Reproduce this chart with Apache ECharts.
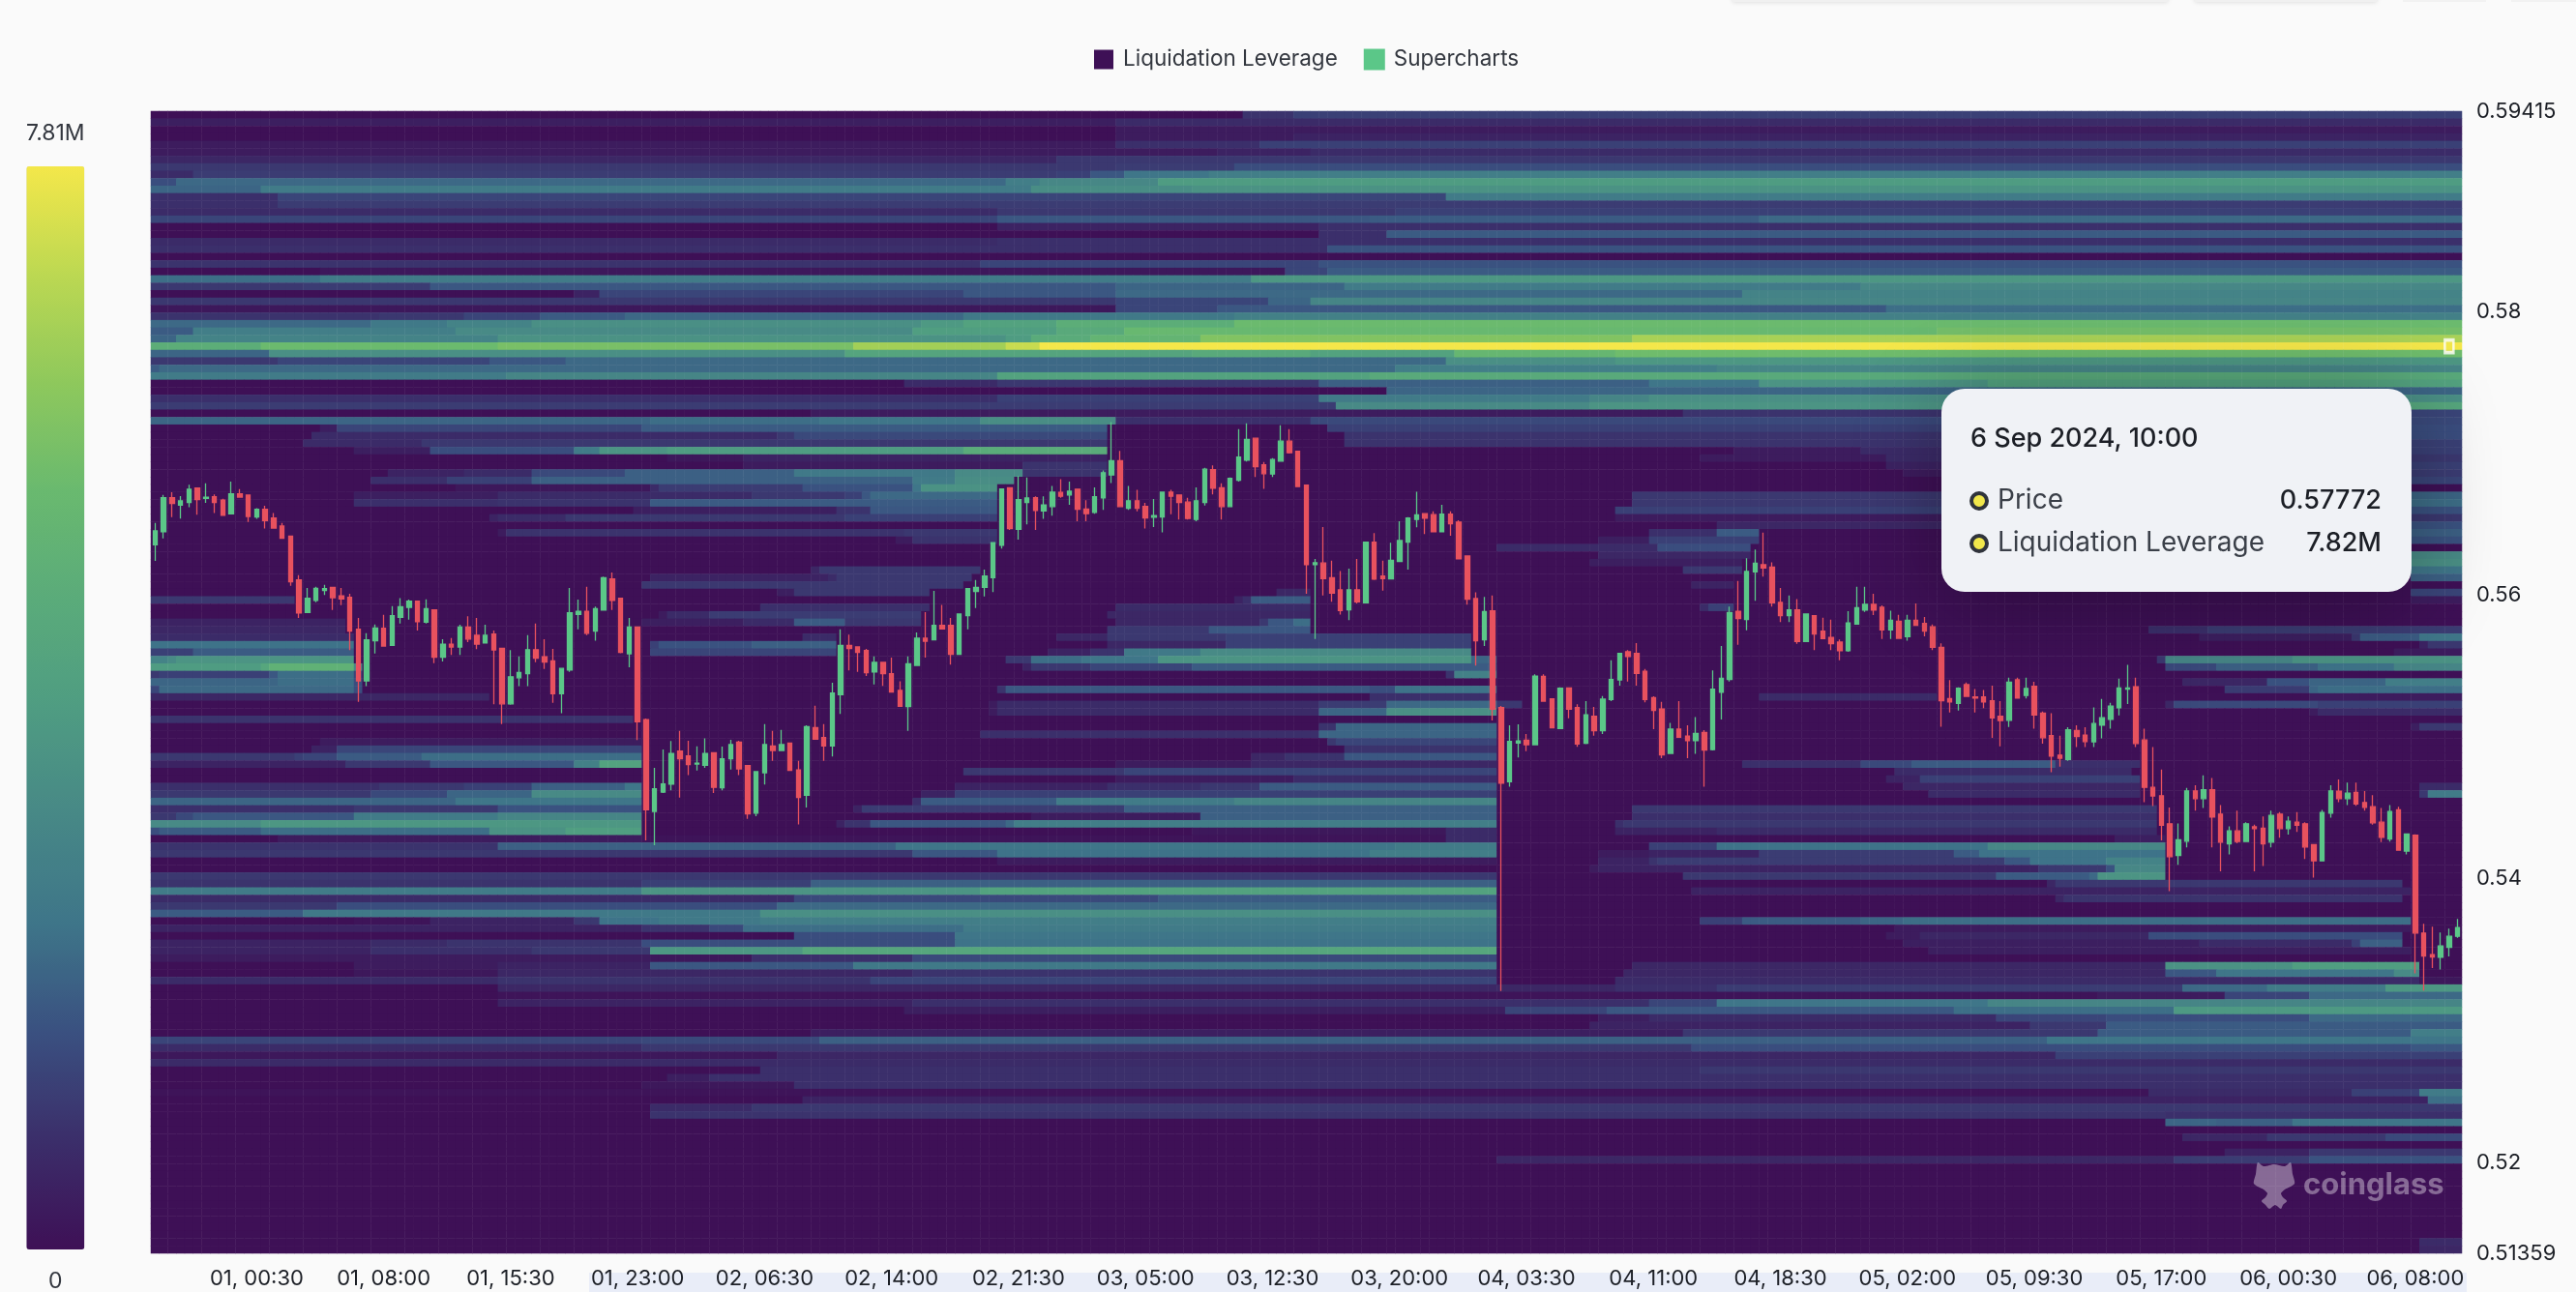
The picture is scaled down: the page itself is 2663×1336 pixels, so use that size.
<!DOCTYPE html>
<html><head><meta charset="utf-8">
<style>html,body{margin:0;padding:0;background:#fafafa}#c{width:2663px;height:1336px}</style>
<script src="https://cdn.jsdelivr.net/npm/echarts@6/dist/echarts.min.js"></script>
</head><body><div id="c"></div>
<script>
// Candles, one row per half hour: [open, close, low, high] in units of 0.00001
const candlesA=[[56357,56455,56243,56511],[56448,56689,56402,56709],[56689,56648,56552,56728],[56637,56666,56541,56700],[56655,56748,56621,56780],[56757,56675,56568,56757],[56684,56693,56653,56791],[56696,56655,56580,56712],[56671,56564,56562,56682],[56575,56716,56573,56803],[56716,56693,56689,56750],[56707,56557,56518,56707],[56552,56607,56539,56614],[56607,56527,56471,56632],[56546,56475,56471,56580],[56489,56402,56402,56511],[56418,56095,56068,56418],[56109,55875,55840,56143],[55879,55979,55875,56052],[55965,56050,55952,56061],[56034,56047,56002,56075],[56056,55984,55897,56056],[55997,55975,55931,56052],[55986,55747,55613,56011],[55761,55397,55249,55840],[55397,55686,55360,55733],[55679,55770,55590,55795],[55768,55642,55642,55863],[55647,55856,55645,55925],[55845,55920,55802,55981],[55915,55959,55829,55970],[55959,55815,55752,55959],[55811,55906,55802,55972],[55897,55563,55522,55897],[55563,55656,55533,55690],[55656,55636,55579,55699],[55636,55777,55579,55793],[55777,55692,55670,55852],[55718,55656,55620,55840],[55665,55718,55661,55793],[55727,55615,55231,55752],[55627,55235,55092,55627],[55235,55426,55228,55613],[55419,55456,55360,55570],[55447,55617,55360,55720],[55617,55556,55529,55802],[55567,55529,55481,55690],[55538,55306,55242,55622],[55306,55485,55169,55485],[55474,55877,55460,56052],[55865,55888,55761,55970],[55888,55733,55720,56061],[55747,55906,55681,55920],[55897,56125,55893,56132],[56116,55965,55897,56161],[55979,55597,55592,55979],[55588,55777,55492,55840],[55777,55108,54980,55777],[55124,54487,54271,55131]];
const candlesB=[[54476,54635,54237,54783],[54612,54669,54606,54913],[54669,54885,54624,54972],[54901,54847,54574,55045],[54867,54806,54733,54974],[54810,54817,54765,54935],[54801,54885,54783,54992],[54890,54646,54606,54890],[54642,54847,54624,54933],[54847,54947,54772,54981],[54965,54776,54733,54974],[54799,54458,54424,54799],[54464,54756,54442,54756],[54749,54947,54665,55092],[54938,54906,54833,55045],[54906,54947,54901,55051],[54958,54765,54765,54958],[54769,54574,54385,54833],[54590,55074,54503,55083],[55067,54985,54983,55222],[54997,54938,54833,55092],[54938,55311,54863,55384],[55299,55647,55163,55761],[55647,55625,55470,55723],[55636,55597,55461,55636],[55611,55454,55431,55622],[55459,55527,55372,55570],[55527,55447,55361,55527],[55447,55318,55315,55561],[55329,55218,55215,55393],[55215,55518,55045,55570],[55506,55698,55504,55738],[55698,55677,55561,55882],[55686,55789,55684,56032],[55789,55764,55761,55932],[55789,55584,55511,55841],[55584,55868,55584,55868],[55857,56048,55761,56048],[56027,56057,55911,56109],[56057,56137,55993,56182],[56125,56371,56023,56371],[56353,56751,56330,56751],[56758,56471,56462,56758],[56466,56676,56394,56842],[56655,56687,56501,56831],[56689,56598,56462,56699],[56596,56637,56539,56699],[56626,56728,56562,56771],[56726,56699,56689,56819],[56708,56735,56639,56803],[56749,56608,56523,56749],[56608,56576,56523,56671],[56585,56696,56576,56762],[56687,56865,56603,56881],[56849,56949,56792,57222],[56949,56626,56621,57019],[56614,56667,56603,56771]];
const candlesC=[[56667,56614,56592,56744],[56628,56546,56471,56653],[56551,56562,56482,56680],[56553,56728,56444,56728],[56728,56699,56573,56744],[56708,56655,56535,56708],[56658,56542,56535,56689],[56535,56667,56523,56762],[56655,56890,56633,56899],[56887,56755,56712,56917],[56758,56626,56535,56790],[56626,56826,56621,56831],[56812,56976,56803,57172],[56953,57099,56944,57213],[57108,56908,56835,57108],[56921,56858,56751,56940],[56856,56958,56835,56967],[56947,57088,56944,57199],[57088,57006,57001,57172],[57017,56767,56767,57017],[56778,56216,56011,56778],[56216,56230,55693,56257],[56228,56118,56000,56482],[56125,56016,55955,56244],[56039,55893,55864,56171],[55898,56039,55825,56189],[56039,55955,55943,56257],[55948,56375,55943,56380],[56375,56114,56109,56439],[56137,56118,56034,56244],[56116,56248,56114,56371],[56239,56387,56234,56523],[56375,56546,56182,56551],[56535,56567,56480,56730],[56576,56544,56432,56580],[56569,56448,56444,56592],[56448,56573,56444,56639],[56573,56505,56421,56592],[56517,56257,56255,56530],[56278,55973,55934,56278],[55977,55679,55504,56021],[55686,55886,55643,55989],[55891,55197,55117,56000],[55208,54676,53209,55220],[54685,54970,54651,55083],[54958,54974,54856,55090],[54979,54947,54901,55022],[54947,55431,54942,55443],[55429,55254,55249,55443],[55270,55065,55061,55270],[55061,55345,55056,55352],[55347,55197,55133,55347],[55208,54951,54931,55231],[54956,55158,54951,55254],[55147,55045,55010,55213],[55045,55268,55022,55290],[55265,55406,55254,55543]];
const candlesD=[[55404,55590,55363,55590],[55602,55568,55392,55613],[55590,55449,55363,55663],[55465,55265,55245,55481],[55279,55188,55056,55288],[55199,54874,54851,55249],[54885,55056,54883,55101],[55056,54999,54994,55254],[55008,54976,54851,55083],[54976,55026,54883,55142],[55033,54908,54651,55049],[54912,55338,54906,55470],[55317,55415,55124,55643],[55406,55879,55392,55920],[55888,55836,55652,56102],[55829,56168,55754,56261],[56166,56227,55961,56323],[56216,56193,56132,56443],[56200,55948,55920,56232],[55950,55857,55811,56052],[55857,55897,55811,56000],[55897,55675,55659,55973],[55675,55868,55670,55870],[55857,55727,55613,55861],[55747,55695,55693,55843],[55704,55659,55613,55829],[55670,55609,55543,55688],[55609,55806,55602,55888],[55797,55913,55795,56061],[55897,55936,55884,56061],[55936,55897,55861,56011],[55916,55756,55693,55929],[55756,55825,55693,55891],[55818,55697,55693,55863],[55709,55825,55681,55863],[55825,55788,55784,55943],[55802,55747,55711,55847],[55779,55634,55613,55795],[55634,55256,55074,55661],[55272,55249,55174,55402],[55238,55345,55188,55351],[55370,55288,55283,55386],[55283,55276,55174,55340],[55283,55249,55204,55333],[55256,55135,54994,55363],[55147,55117,54935,55254],[55119,55388,55072,55420]];
const candlesE=[[55404,55276,55272,55419],[55294,55344,55272,55419],[55358,55156,55060,55390],[55169,54996,54953,55181],[55010,54867,54753,55169],[54873,54851,54792,55010],[54842,55051,54833,55069],[55046,55005,54930,55083],[55015,54969,54930,55069],[54967,55096,54930,55210],[55085,55137,54992,55269],[55126,55219,55060,55242],[55208,55347,55153,55413],[55338,55347,55233,55510],[55356,54955,54930,55419],[54980,54646,54541,55060],[54646,54585,54514,54930],[54587,54378,54271,54771],[54389,54157,53913,54503],[54166,54275,54100,54391],[54266,54621,54223,54641],[54621,54566,54482,54660],[54566,54628,54500,54730],[54628,54437,54223,54712],[54457,54259,54054,54521],[54248,54339,54173,54371],[54339,54264,54252,54482],[54264,54389,54259,54400],[54368,54355,54054,54382],[54357,54248,54091,54441],[54259,54448,54223,54482],[54457,54355,54291,54471],[54355,54407,54312,54441],[54400,54378,54332,54471],[54389,54225,54141,54400],[54241,54127,54009,54241],[54127,54469,54123,54487],[54464,54621,54432,54660],[54619,54566,54541,54701],[54566,54605,54521,54680],[54610,54528,54516,54680],[54539,54505,54482,54619],[54509,54396,54382,54591],[54400,54293,54259,54500],[54282,54475,54264,54521],[54487,54202,54200,54509],[54196,54316,54173,54321],[54309,53618,53333,54314],[53618,53456,53213,53684],[53465,53449,53372,53663],[53447,53527,53361,53622],[53518,53595,53454,53650],[53595,53656,53584,53718]];

// Heat rows from the top price level down. Each row: column where a run starts, then leverage in millions
const heatRowsTop=[[0,0,129,.9,135,1.2],[0,.4,114,.7],[0,0,114,.3],[0,0,114,.3,135,.5],[0,.3,114,.8,131,1.2],[0,.3,126,.5,137,.7],[0,.6,107,1],[0,1,114,1.1,128,1.5],[0,.7,5,1.1,107,1.2,111,1.7,115,2.4,125,2.7],[0,1.5,3,2.1,101,2.7,105,3.1,119,3.9],[0,2,13,2.6,104,3.3,123,3.5],[0,.8,15,1.3,153,2.6],[0,.8,15,1.1],[0,.7,100,1,147,1.2],[0,1.3,100,1.7,144,1.8,190,2.1],[0,0,100,.5,138,.8],[0,0,138,.8,146,1.8],[0,.7,100,.8],[0,.8,139,1.6],[0,0],[0,.9,98,1.3,138,1.6],[0,0,20,.2,134,1.3,139,1.8],[0,2.2,20,2.6,130,3.7],[0,1,18,1.1,33,1.7,114,2,141,2.6,202,3.1],[0,0,50,.5,53,1.3,96,1.7,114,2.1,188,2.9],[0,1,114,1.3,132,2,137,3],[0,.2,114,1.3,126,1.7,205,2.2],[0,.9,27,1,37,1.3,46,1.8,56,2.1,96,2.5,128,2.8],[0,2.1,26,2.5,35,2.9,45,3.4,91,3.8,96,4.2,107,4.8,128,5.5],[0,1.8,5,2.7,36,3.2,90,4,107,4.6,115,5.4,211,5.7],[0,2,3,2.9,41,3.5,101,3.9,104,4.7,111,5.2,124,6,175,6.7],[0,4.8,13,5.5,41,5.8,83,6.6,101,7.2,105,7.81],[0,2,14,3.4,82,4.3,123,4.6,137,4.2,154,5.3,173,5.6],[0,1,15,1.3,40,1.7,49,2.1,153,3.4,173,3.7],[0,1.8,1,2.1,147,2.7,185,3],[0,2.6,42,3,100,4.2,144,4.6],[0,0,89,.7,100,1,138,1.9,177,2.4,190,3.6,217,4.2],[0,0,146,2],[0,.8,100,1.2,138,2.6,170,3,177,3.4],[0,1.1,140,3.2,170,3.6,212,4.4],[0,0,78,.3,181,.9,267,1.3]];
const heatRowsUpperMid=[[0,2,59,2.2,79,2.4,98,3.3,114,.8,137,1.4],[0,0,20,.4,22,1.3,58,1.8,113,0,139,1.2,267,1.5],[0,0,19,.7,74,1,76,1.4,113,0,141,.9,267,1.5],[0,0,18,.7,32,1,113,0,141,.9,267,1.2],[0,0,24,.4,33,1.5,50,2.6,53,3.6,61,3.9,96,4.7,113,0,187,.3,202,.7,267,1.2],[0,0,61,.2,70,.5,113,0,183,.3,205,.7,267,1],[0,0,70,.3,103,.9,113,0,205,.5,267,1.2],[0,0,28,.5,37,.7,45,1.4,56,1.9,76,2.5,95,3.2,103,.9,113,0,207,.3,267,1.1],[0,0,26,.8,35,1.2,45,1.9,90,2.6,95,3.3,102,0,267,1.3],[0,0,36,.2,59,.7,60,1.1,77,1.6,90,2.4,91,3.5,100,0],[0,0,24,.4,41,.7,71,1,82,1.2,84,1.7,85,2.1,100,0,175,1,267,2],[0,0,24,.8,41,.9,59,1.8,100,0,175,1,267,2.2],[0,0,57,.4,81,.9,85,1.7,100,0,173,1.2,267,1.6],[0,0,40,.5,41,.7,49,1,82,1.2,100,0,173,.3,267,1],[0,0,185,.6,267,1.6],[0,0,41,.3,42,.9,89,1,100,0,177,.8,185,1.8,190,0,267,1.9],[0,0,88,.3,90,.9,100,0,171,.4,177,1.2,190,0,267,1.6],[0,0,159,.7,178,1.5,189,0],[0,0,171,.6,189,0,267,3.2],[0,0,170,.4,188,0,267,3.4],[0,0,78,.6,79,1,98,0,181,1,188,0,267,2.4],[0,0,59,.5,80,.7,81,1,97,0,267,1.9],[0,0,58,1,96,0,182,.5,187,0],[0,0,74,.4,76,1,92,0,133,.6,137,0,267,1.3],[0,1,17,0,128,.5,129,.8,130,1.8,137,0,267,.3],[0,0,72,.8,92,0,114,.7,137,0,183,.7,184,1.2,187,0],[0,0,60,.3,61,.7,66,1.1,91,0,113,.6,137,0],[0,.5,23,0,58,.4,70,.7,76,1.8,82,1,91,0,114,.6,131,1,132,1.7,135,2.2,137,0],[0,.6,23,0,113,1,125,1.7,137,0,236,.8,243,1.1],[0,.7,24,0,77,.7,81,0,107,.6,113,1,127,1.2,156,0,242,.4,260,1,261,1.8,268,2.4]];
const heatRowsLowerMid=[[0,2.3,24,0,59,1.2,60,1.6,71,1.9,81,0,113,.6,127,1.2,156,0,268,.5,269,1],[0,1.2,5,1.8,24,0,59,1.3,81,0,106,.5,111,.9,115,2.5,124,3.2,156,0,265,.3],[0,2.9,2,3.2,3,3.6,24,0,101,1,104,2.2,110,2.4,119,3.6,156,2,159,0,237,1,238,3,253,3.5],[0,3.9,13,4.4,14,5,24,3,25,0,103,.5,104,1,111,1.3,123,1.8,159,0,238,1.4,244,1.9,256,2.3,265,3],[0,1,1,1.2,14,1.7,15,2.2,24,1.3,25,0,153,.9,154,2.8,159,0],[0,2,15,2.2,24,1.5,25,0,240,.6,250,1.6,255,2,264,2.7],[0,1.3,1,2.1,24,1.5,25,0,100,.9,101,1.7,144,1.5,147,2.3,159,0,245,1.1,255,2,256,2.2],[0,.6,40,0,144,.8,159,0,190,.7,211,0,255,.3],[0,0,99,.3,100,.7,138,1.1,146,2.1,159,1,162,0,238,.6,239,1.4,256,1.2],[0,0,99,.3,100,.7,138,2,146,3.4,159,0,255,.3,256,.7],[0,.9,57,0],[0,0,138,.9,140,2,159,0,267,.4,268,1],[0,0,98,.8,138,2,159,0],[0,0,20,.3,58,0,139,1,140,1.3,159,0],[0,0,19,.5,22,1.3,58,0,141,.9,159,0],[0,1,17,1.2,18,1.3,22,1.8,32,2.2,58,0,130,.6,134,.9,141,1.7,159,0],[0,.5,23,1,33,1.7,50,2.8,53,4.2,58,0,114,.3,130,.6,159,0,188,.8,202,1.4,208,1.8,225,.8,235,0],[0,0,96,1,115,1.3,159,0,206,.7,234,0],[0,0,114,.3,135,.7,159,0,205,.5,209,1.2,235,0],[0,.8,27,1,37,1.2,45,1.9,56,2.4,58,0,95,.5,113,.8,124,1,131,1.8,159,0,207,.6,235,0,268,.7],[0,1,26,1.4,35,2,45,3.2,58,0,91,.5,95,1.2,159,0,210,.7,235,0,268,1,269,2.6],[0,2,36,2.4,58,0,90,.8,91,1.8,107,2.6,128,3,159,0],[0,.8,24,1,41,1.6,58,0,83,.5,84,1.1,115,1.9,159,0,175,1,237,0],[0,1,3,1.4,5,1.7,24,2.6,41,3,58,0,104,.3,124,1.9,159,0,175,.8,237,0],[0,3.2,13,3.7,58,0,81,.5,82,.9,85,1.7,101,2.1,102,2.7,159,0,173,.8,174,1,237,0],[0,1.5,1,1.8,13,2.2,40,3.5,49,4,58,0,123,.2,153,.7,159,0,173,.5,185,.7,237,0],[0,0,15,.3,58,.1,153,.7,159,0,232,.4,238,0],[0,.9,41,1.9,88,2.4,147,2.6,159,0,177,1.2,185,2.3,217,3.1,238,0],[0,1,90,1.7,100,2.3,144,2.7,159,0,171,.3,177,.5,190,1.1,213,1.8,216,2.3,238,0],[0,0,100,.3,159,0,171,.5,177,.9,178,1.1,219,1.7,222,2.3,231,2.9,238,0]];
const heatRowsBottom=[[0,0,170,.3,171,.5,223,1,231,1.6,232,3.1,238,0],[0,1,159,0,181,1,218,1.8,229,2.1,230,3.6,238,0],[0,.9,58,1.2,78,1.9,159,0,224,.6,225,1,266,0],[0,2.6,58,3.6,98,4.2,159,0,182,.5,267,0],[0,.7,76,1.4,119,1.8,159,0,225,.6,226,.9,266,0],[0,1,22,1.5,74,2.1,159,0],[0,1.8,18,2.5,72,3.4,159,0],[0,0,24,.1,33,.5,50,1,53,2.3,60,2.5,72,2.7,159,0,183,1.2,188,1.8,202,2,207,2.2,267,0],[0,.5,58,.9,66,1.4,70,2.2,96,2.6,159,0,206,.3,267,0],[0,0,76,1.5,95,2.4,159,0,205,.3,209,.6,236,1.5,266,0],[0,.5,26,.7,35,.9,58,1.5,95,2.3,159,0,207,.4,242,.7,260,1.2,261,1.9,266,0],[0,.5,26,.8,45,1,59,3.7,77,4.4,159,0,210,.4,267,0],[0,.3,59,.2,71,.8,90,1.4,159,0],[0,0,24,.3,41,.5,59,1.7,83,2.5,159,0,175,.6,238,3.5,253,4,268,0],[0,0,24,.2,41,.6,90,.9,159,0,174,.6,238,1.7,244,2.4,265,3.2,268,0],[0,.7,41,.9,85,1.3,159,0,173,.7,268,.2],[0,0,41,.6,173,.8,185,1.1,240,2.1,250,2.6,264,3.7],[0,0,41,.1,230,.3,245,1.3,255,2.1],[0,0,41,.5,90,.8,177,1.3,185,2.4,217,3],[0,0,89,.4,160,1.3,172,1.7,213,2.2,239,3.8],[0,0,171,.4,177,.7,218,1.3,231,1.5,255,2.1],[0,0,170,.5,222,1,231,1.8],[0,0,78,.4,181,1,230,1.8,267,2.7],[0,1.3,58,1.4,79,1.9,224,2.4],[0,.7,58,1,182,1.5,267,1.7],[0,.2,74,.6,225,1.2],[0,.7],[0,0,72,.8,183,1],[0,0,61,.4,66,.8],[0,0,58,.2,76,.8],[0,.1,236,.7,260,1.2,268,2.6],[0,0,77,.5,269,2.2],[0,0,59,.7,71,1],[0,0,59,.9,238,.8],[0,0,238,2,244,1.9,253,2.4],[0,0],[0,0,240,.6,250,1,264,1.4],[0,0],[0,0,245,.5,255,1],[0,0,159,.6,239,1.1,255,1.6],[0,0],[0,0],[0,0],[0,0],[0,0],[0,0],[0,0],[0,0],[0,0],[0,0],[0,0,268,.7],[0,0,268,.6]];

const priceTicks=[0.59415,0.58,0.56,0.54,0.52,0.51359];
const priceMin=0.51359, priceMax=0.59415, leverageMax=7.81;
const legendNames=['Liquidation Leverage','Supercharts'];
const viridis=['#3e1056','#3b2e6a','#3a5080','#3e7589','#478886','#4f9c82','#5aab7a','#69b96f','#8ec85c','#bcd852','#f4e74a'];
const tipTitle='6 Sep 2024, 10:00', tipPrice='0.57772', tipLeverage='7.82M';
const markedColumn=271, markedRow=31;
const firstLabelColumn=12, labelEvery=15;

const FONT='Inter';
const candles=[].concat(candlesA,candlesB,candlesC,candlesD,candlesE);
const heatRows=[].concat(heatRowsTop,heatRowsUpperMid,heatRowsLowerMid,heatRowsBottom);
const pad=n=>String(n).padStart(2,'0');
const startMs=Date.UTC(2024,7,31,18,30);
const timeLabels=candles.map((_,i)=>{const d=new Date(startMs+i*1800000);return pad(d.getUTCDate())+', '+pad(d.getUTCHours())+':'+pad(d.getUTCMinutes());});
const rowLabels=heatRows.map((_,i)=>String(i));
const cells=[];
heatRows.forEach((runs,r)=>{
  for(let k=0;k<runs.length;k+=2){
    const end=k+2<runs.length?runs[k+2]:candles.length;
    for(let c=runs[k];c<end;c++)cells.push([c,r,runs[k+1]]);
  }
});
const candleData=candles.map(c=>c.map(v=>v/1e5));

const chart=echarts.init(document.getElementById('c'),null,{renderer:'canvas'});
const tipFill='#f0f2f6', textDark='#1c1f26', textMid='#3a3f48';
const dot=(cy)=>({type:'circle',shape:{cx:2046,cy:cy,r:8},style:{fill:'#f1e74b',stroke:'#30343c',lineWidth:4},z:101});
const mascotFill='rgba(255,255,255,.38)';
chart.setOption({
  animation:false,
  backgroundColor:'#fafafa',
  textStyle:{fontFamily:FONT},
  legend:{left:1126,top:45,itemWidth:20,itemHeight:20,itemGap:27,icon:'rect',
    textStyle:{fontFamily:FONT,fontSize:22.5,color:'#33373f',padding:[0,0,0,5]},
    data:[{name:legendNames[0],itemStyle:{color:'#3e1056'}},{name:legendNames[1],itemStyle:{color:'#5bc788'}}]},
  grid:{left:156,top:115,right:118,bottom:40,containLabel:false},
  xAxis:{type:'category',data:timeLabels,boundaryGap:true,axisLine:{show:false},axisTick:{show:false},splitLine:{show:false},
    axisLabel:{interval:(i)=>i>=firstLabelColumn&&(i-firstLabelColumn)%labelEvery===0,margin:15,fontSize:22,fontFamily:FONT,color:'#1c1f26',hideOverlap:false}},
  yAxis:[
    {type:'category',data:rowLabels,inverse:true,boundaryGap:true,show:false},
    {type:'value',min:priceMin,max:priceMax,position:'right',scale:true,axisLine:{show:false},axisTick:{show:false},splitLine:{show:false},
     axisLabel:{customValues:priceTicks,showMinLabel:true,showMaxLabel:true,margin:15,fontSize:22,fontFamily:FONT,color:'#1c1f26',formatter:v=>String(+v.toFixed(5))}}
  ],
  visualMap:{type:'continuous',seriesIndex:0,min:0,max:leverageMax,calculable:false,hoverLink:false,realtime:false,
    left:12,top:112,itemWidth:60,itemHeight:1120,textGap:22,text:['7.81M','0'],textStyle:{fontFamily:FONT,fontSize:23,color:'#33373f'},
    inRange:{color:viridis}},
  series:[
    {name:legendNames[0],type:'heatmap',xAxisIndex:0,yAxisIndex:0,data:cells,progressive:0,silent:true,itemStyle:{borderWidth:0},emphasis:{disabled:true}},
    {name:legendNames[1],type:'candlestick',xAxisIndex:0,yAxisIndex:1,data:candleData,barWidth:5,silent:true,z:5,
      itemStyle:{color:'#5bc788',color0:'#e8525e',borderColor:'#5bc788',borderColor0:'#e8525e',borderWidth:1.3},progressive:0},
    {type:'scatter',xAxisIndex:0,yAxisIndex:0,data:[[markedColumn,markedRow]],symbol:'rect',symbolSize:[9,13],silent:true,z:6,
      itemStyle:{color:'#f1e74b',borderColor:'#ffffff',borderWidth:3}}
  ],
  graphic:{elements:[
    {type:'rect',shape:{x:609,y:1316,width:1941,height:20},style:{fill:'#e9edf8'},z:-1},
    {type:'rect',shape:{x:1791,y:-4,width:450,height:6},style:{fill:'#f0f0f0',shadowBlur:5,shadowColor:'rgba(0,0,0,.15)'},z:-1},
    {type:'rect',shape:{x:2269,y:-4,width:188,height:6},style:{fill:'#f0f0f0',shadowBlur:5,shadowColor:'rgba(0,0,0,.15)'},z:-1},
    {type:'rect',shape:{x:2484,y:-4,width:86,height:6},style:{fill:'#f2f2f2'},z:-1},
    {type:'rect',shape:{x:2596,y:-4,width:67,height:6},style:{fill:'#f2f2f2'},z:-1},
    {type:'polygon',shape:{smooth:0.25,points:[[2334,1202],[2340,1206],[2351,1204],[2362,1206],[2368,1202],[2370,1214],[2372,1224],[2362,1230],[2358,1234],[2360,1238],[2364,1242],[2360,1246],[2358,1250],[2352,1246],[2346,1250],[2342,1246],[2338,1242],[2342,1238],[2344,1234],[2340,1230],[2330,1224],[2332,1214]]},style:{fill:mascotFill},z:20},
    {type:'text',x:2381,y:1226,style:{text:'coinglass',fill:mascotFill,font:'bold 31px '+FONT,textVerticalAlign:'middle'},z:20},
    {type:'rect',shape:{x:2007,y:402,width:486,height:210,r:24},style:{fill:tipFill,shadowBlur:90,shadowOffsetY:10,shadowColor:'rgba(0,0,0,.32)'},z:100},
    {type:'text',x:2037,y:454,style:{text:tipTitle,fill:textDark,font:'500 27px '+FONT,textVerticalAlign:'middle'},z:101},
    dot(518),dot(562),
    {type:'text',x:2065,y:518,style:{text:'Price',fill:textMid,font:'28px '+FONT,textVerticalAlign:'middle'},z:101},
    {type:'text',x:2065,y:562,style:{text:legendNames[0],fill:textMid,font:'28px '+FONT,textVerticalAlign:'middle'},z:101},
    {type:'text',x:2462,y:518,style:{text:tipPrice,fill:textDark,font:'500 27px '+FONT,textAlign:'right',textVerticalAlign:'middle'},z:101},
    {type:'text',x:2462,y:562,style:{text:tipLeverage,fill:textDark,font:'500 27px '+FONT,textAlign:'right',textVerticalAlign:'middle'},z:101}
  ]}
});
</script></body></html>
